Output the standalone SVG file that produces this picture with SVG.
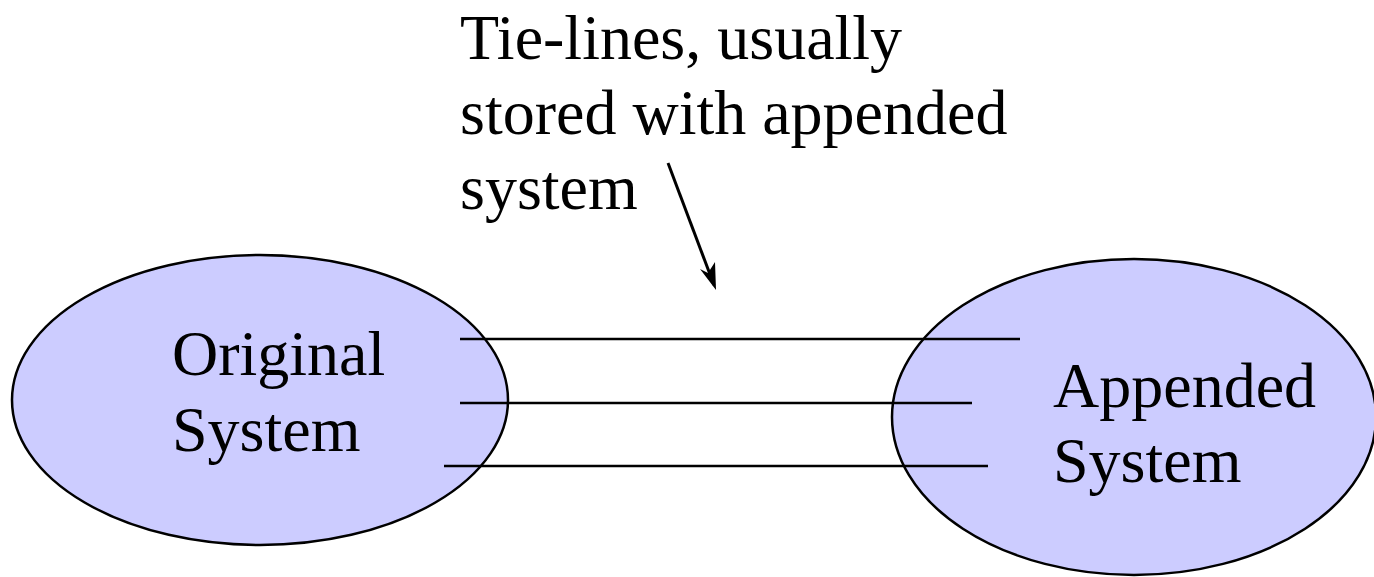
<svg xmlns="http://www.w3.org/2000/svg" width="1374" height="577" viewBox="0 0 1374 577">
<style>
.node{fill:#ccccff;stroke:#000;stroke-width:2.5}
.lbl{font-family:"Liberation Serif","Times New Roman",serif;font-size:64px;fill:#000}
.tie{stroke:#000;stroke-width:2.5;fill:none}
</style>
<rect width="1374" height="577" fill="#fff"/>
<g id="original">
<ellipse class="node" cx="260" cy="400" rx="248" ry="145"/>
<text class="lbl" x="172" y="375">Original</text>
<text class="lbl" x="172" y="451">System</text>
</g>
<g id="appended">
<ellipse class="node" cx="1134" cy="417" rx="242" ry="158"/>
<text class="lbl" x="1053" y="407">Appended</text>
<text class="lbl" x="1053" y="482">System</text>
</g>
<g id="note">
<text class="lbl" x="460" y="59">Tie-lines, usually</text>
<text class="lbl" x="460" y="134">stored with appended</text>
<text class="lbl" x="460" y="209">system</text>
</g>
<g id="connectors">
<line class="tie" x1="460" y1="339" x2="1020" y2="339"/>
<line class="tie" x1="460" y1="403" x2="972" y2="403"/>
<line class="tie" x1="444" y1="466" x2="988" y2="466"/>
<path d="M668,163 L714,285" stroke="#000" stroke-width="3" fill="none"/>
<path d="M716,290 L700,269 L708,273 L715,262 Z" fill="#000"/>
</g>
</svg>
